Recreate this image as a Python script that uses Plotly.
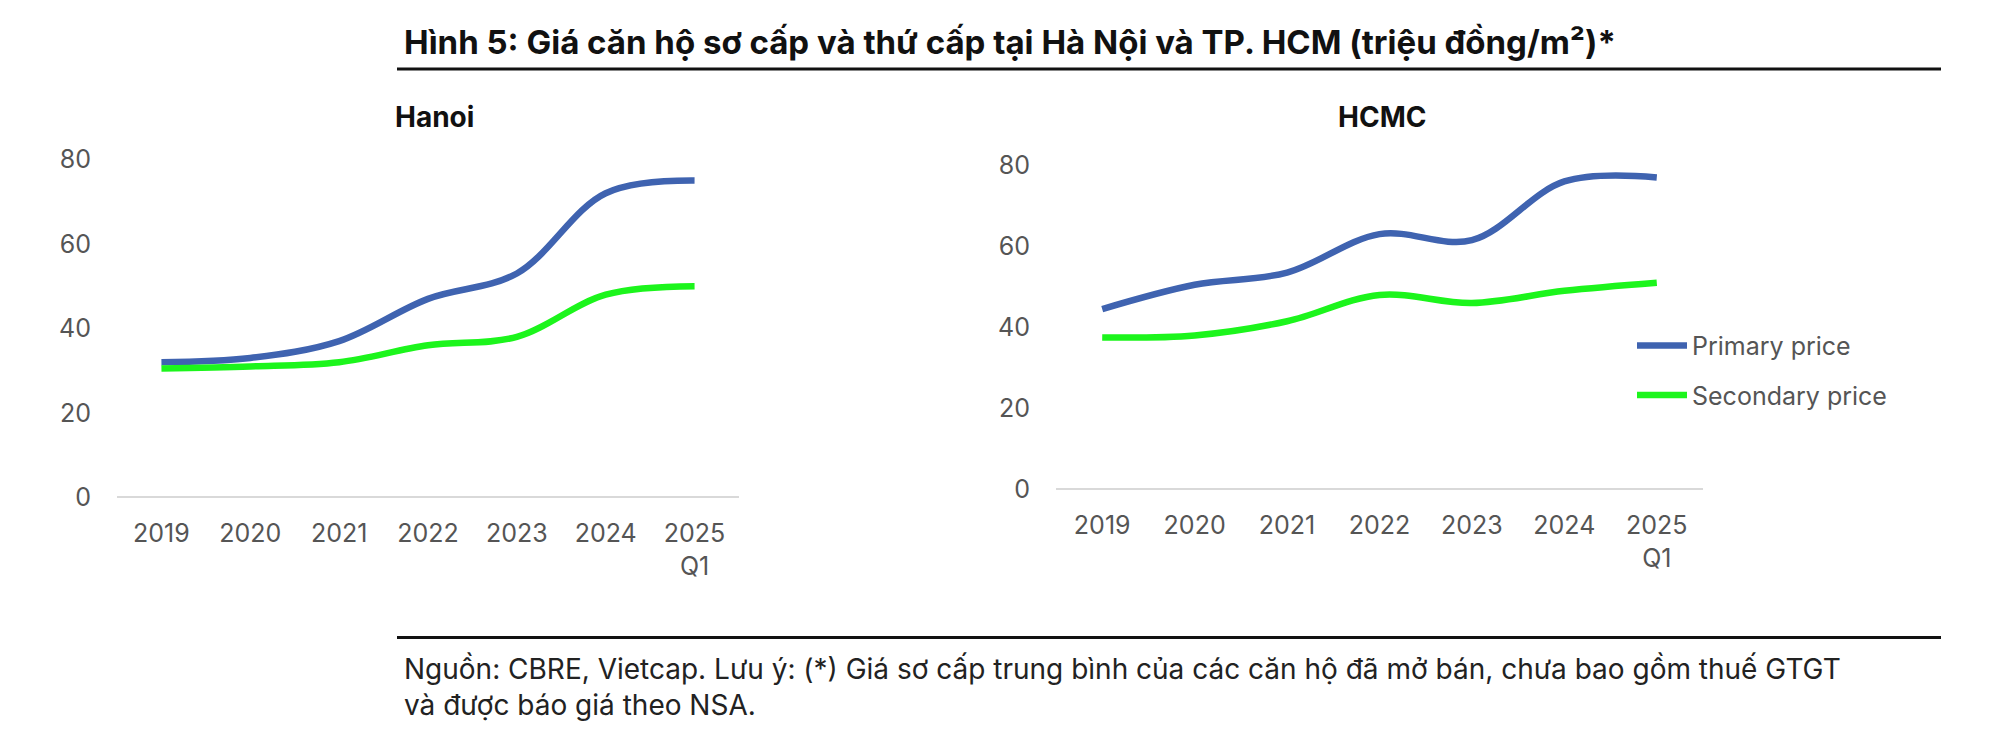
import plotly.graph_objects as go

years = ["2019", "2020", "2021", "2022", "2023", "2024", "2025<br>Q1"]
hanoi_primary = [32, 33, 37, 47, 53, 72, 75]
hanoi_secondary = [30.5, 31, 32, 36, 38, 48, 50]
hcmc_primary = [44.5, 50.5, 53.5, 63, 61.5, 76, 77]
hcmc_secondary = [37.5, 38, 41.5, 48, 46, 49, 51]
yticks = [0, 20, 40, 60, 80]

BLUE = "#3f63b0"
GREEN = "#1cf51c"
FONT = "Inter"

fig = go.Figure()
xi = list(range(len(years)))
fig.add_trace(go.Scatter(x=xi, y=hanoi_primary, mode="lines", line=dict(color=BLUE, width=6.5, shape="spline"), showlegend=False, xaxis="x", yaxis="y"))
fig.add_trace(go.Scatter(x=xi, y=hanoi_secondary, mode="lines", line=dict(color=GREEN, width=6.5, shape="spline"), showlegend=False, xaxis="x", yaxis="y"))
fig.add_trace(go.Scatter(x=xi, y=hcmc_primary, mode="lines", name="Primary price", legendgroup="a", line=dict(color=BLUE, width=6.5, shape="spline"), xaxis="x2", yaxis="y2"))
fig.add_trace(go.Scatter(x=xi, y=hcmc_secondary, mode="lines", name="Secondary price", legendgroup="b", line=dict(color=GREEN, width=6.5, shape="spline"), xaxis="x2", yaxis="y2"))

xax = dict(tickmode="array", tickvals=xi, ticktext=years, range=[-0.5, 6.5], showgrid=False, zeroline=False,
           showline=False, tickfont=dict(size=25, color="#555555", family=FONT), ticks="outside", ticklen=14,
           tickcolor="rgba(0,0,0,0)")
yax = dict(tickmode="array", tickvals=yticks, range=[0, 80], showgrid=False, zeroline=True, zerolinecolor="#d9d9d9",
           zerolinewidth=2, tickfont=dict(size=25, color="#555555", family=FONT), ticks="outside", ticklen=20,
           tickcolor="rgba(0,0,0,0)")
fig.update_layout(
    width=2000, height=752, margin=dict(l=0, r=0, t=0, b=0),
    paper_bgcolor="white", plot_bgcolor="white",
    xaxis=dict(domain=[0.0545, 0.3655], anchor="y", **xax),
    yaxis=dict(domain=[0.343, 0.811], anchor="x", **yax),
    xaxis2=dict(domain=[0.524, 0.8475], anchor="y2", **xax),
    yaxis2=dict(domain=[0.354, 0.803], anchor="x2", **yax),
    legend=dict(x=0.812, y=0.585, xanchor="left", yanchor="top", tracegroupgap=14,
                font=dict(size=25, color="#555555", family=FONT), itemwidth=50, bgcolor="rgba(0,0,0,0)"),
    font=dict(family=FONT),
)
fig.add_annotation(text="<b>Hình 5: Giá căn hộ sơ cấp và thứ cấp tại Hà Nội và TP. HCM (triệu đồng/m²)*</b>",
                   xref="paper", yref="paper", x=0.197, y=1 - 20/752, xanchor="left", yanchor="middle",
                   showarrow=False, font=dict(size=33, color="#111111", family=FONT))
fig.add_annotation(text="<b>Hanoi</b>", xref="paper", yref="paper", x=385/2000, y=1 - 78/752,
                   showarrow=False, font=dict(size=28, color="#111111", family=FONT))
fig.add_annotation(text="<b>HCMC</b>", xref="paper", yref="paper", x=1420/2000, y=1 - 78/752,
                   showarrow=False, font=dict(size=28, color="#111111", family=FONT))
fig.add_annotation(text="Nguồn: CBRE, Vietcap. Lưu ý: (*) Giá sơ cấp trung bình của các căn hộ đã mở bán, chưa bao gồm thuế GTGT<br>và được báo giá theo NSA.",
                   xref="paper", yref="paper", x=0.197, y=1 - 692/752, xanchor="left", yanchor="middle", align="left",
                   showarrow=False, font=dict(size=28, color="#222222", family=FONT))
fig.add_shape(type="line", xref="paper", yref="paper", x0=389/2000, x1=1933/2000, y0=1 - 48/752, y1=1 - 48/752,
              line=dict(color="#111111", width=3))
fig.add_shape(type="line", xref="paper", yref="paper", x0=389/2000, x1=1933/2000, y0=1 - 640/752, y1=1 - 640/752,
              line=dict(color="#111111", width=3))
fig.write_html("out.html")
